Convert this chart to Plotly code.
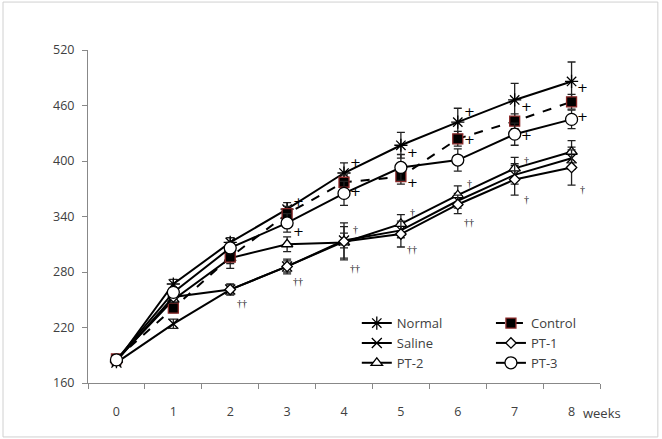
import plotly.graph_objects as go

weeks = ["0", "1", "2", "3", "4", "5", "6", "7", "8"]
y_ticks = [160, 220, 280, 340, 400, 460, 520]

normal = [183, 267, 312, 348, 387, 417, 442, 466, 486]
control = [186, 241, 296, 343, 377, 383, 424, 443, 464]
saline = [182, 224, 261, 286, 314, 325, 357, 385, 403]
pt1 = [184, 253, 261, 286, 313, 321, 353, 380, 393]
pt2 = [185, 250, 295, 310, 312, 332, 363, 392, 410]
pt3 = [185, 258, 306, 333, 365, 393, 401, 429, 445]

normal_err = [2, 5, 5, 7, 11, 14, 15, 18, 21]
control_err = [2, 5, 12, 8, 8, 8, 8, 8, 8]
saline_err = [2, 5, 5, 6, 8, 8, 8, 10, 12]
pt1_err = [2, 6, 6, 8, 20, 14, 10, 17, 19]
pt2_err = [2, 6, 6, 8, 17, 10, 10, 12, 12]
pt3_err = [2, 5, 6, 10, 13, 14, 12, 12, 10]

# significance marks: (week index, value, text)
plus_marks = [(3, 356, "+"), (3, 324, "+"), (4, 398, "+"), (4, 367, "+"),
              (5, 409, "+"), (5, 377, "+"), (6, 453, "+"), (6, 423, "+"),
              (7, 459, "+"), (7, 428, "+"), (8, 480, "+"), (8, 448, "+")]
dagger_marks = [(2, 246, "††"), (3, 270, "††"), (4, 284, "††"), (4, 326, "†"),
                (5, 304, "††"), (5, 344, "†"), (6, 334, "††"), (6, 376, "†"),
                (7, 358, "†"), (7, 401, "†"), (8, 369, "†")]

fig = go.Figure()

def add(name, ys, errs, symbol, size, fill, edge, dash, legend):
    fig.add_trace(go.Scatter(
        x=weeks, y=ys, name=name, mode="lines+markers",
        line=dict(color="black", width=2, dash=dash),
        marker=dict(symbol=symbol, size=size, color=fill,
                    line=dict(color=edge, width=1.3)),
        error_y=dict(type="data", array=errs, visible=True,
                     color="#222222", thickness=1.3, width=4),
        legend=legend,
    ))

add("Normal", normal, normal_err, "asterisk-open", 11, "black", "black", "solid", "legend")
add("Saline", saline, saline_err, "x-thin-open", 10, "black", "black", "solid", "legend")
add("PT-2", pt2, pt2_err, "triangle-up", 10, "white", "black", "solid", "legend")
add("Control", control, control_err, "square", 10, "black", "#8b2a2a", "dash", "legend2")
add("PT-1", pt1, pt1_err, "diamond", 8, "white", "black", "solid", "legend2")
add("PT-3", pt3, pt3_err, "circle", 12, "white", "black", "solid", "legend2")

annotations = []
for wk, v, t in plus_marks:
    annotations.append(dict(x=wk + 0.2, y=v, xref="x", yref="y", text=t,
                            showarrow=False, font=dict(size=13, color="black",
                                                       family="DejaVu Sans")))
for wk, v, t in dagger_marks:
    annotations.append(dict(x=wk + 0.2, y=v, xref="x", yref="y", text=t,
                            showarrow=False, font=dict(size=10, color="#111111",
                                                       family="Liberation Serif")))
annotations.append(dict(x=0.963, y=-0.09, xref="paper", yref="paper",
                        text="weeks", showarrow=False, xanchor="left",
                        yanchor="middle",
                        font=dict(size=13, color="#404040", family="Open Sans")))

fig.update_layout(
    width=662, height=439,
    margin=dict(l=88, r=62, t=50, b=56),
    paper_bgcolor="white", plot_bgcolor="white",
    font=dict(family="Open Sans", size=12, color="#404040"),
    xaxis=dict(type="category", range=[-0.5, 8.5], tickson="boundaries",
               ticks="outside", ticklen=5, tickcolor="#888888",
               showline=True, linecolor="#888888", linewidth=1,
               showgrid=False, zeroline=False, ticklabelstandoff=17,
               tickfont=dict(size=12.5, color="#404040")),
    yaxis=dict(range=[160, 520], tickvals=y_ticks, ticks="outside",
               ticklen=5, tickcolor="#888888", showline=True,
               linecolor="#888888", linewidth=1, showgrid=False,
               zeroline=False, ticklabelstandoff=5,
               tickfont=dict(size=12.5, color="#404040")),
    legend=dict(x=0.525, y=0.225, xanchor="left", yanchor="top",
                bgcolor="rgba(0,0,0,0)", font=dict(size=13, color="#404040"),
                tracegroupgap=0),
    legend2=dict(x=0.787, y=0.225, xanchor="left", yanchor="top",
                 bgcolor="rgba(0,0,0,0)", font=dict(size=13, color="#404040"),
                 tracegroupgap=0),
    annotations=annotations,
    shapes=[dict(type="rect", xref="paper", yref="paper",
                 x0=-0.166, x1=1.113, y0=-0.162, y1=1.144,
                 line=dict(color="#d0d0d0", width=1), layer="below")],
)

fig.write_html("out.html")
